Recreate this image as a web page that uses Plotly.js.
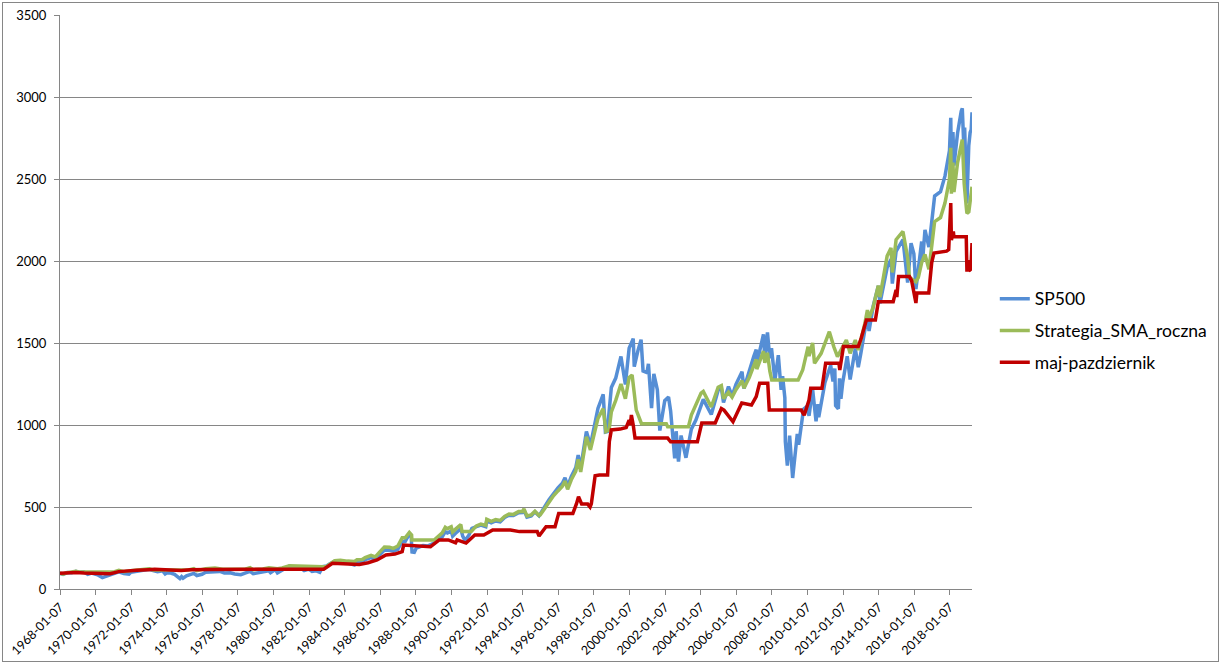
<!DOCTYPE html>
<html>
<head>
<meta charset="utf-8">
<script src="https://cdn.plot.ly/plotly-3.0.1.min.js"></script>
<style>
html,body{margin:0;padding:0;background:#fff;}
#wrap{position:relative;width:1220px;height:664px;}
#chart{position:absolute;left:0;top:0;width:1220px;height:664px;}
#frame{position:absolute;left:2px;top:2px;width:1215px;height:658px;border:1px solid #868686;pointer-events:none;}
</style>
</head>
<body>
<div id="wrap"><div id="chart"></div><div id="frame"></div></div>
<script>
// ---- SP500 (weekly close, sampled) ----
const spDates = ["1968-01-07","1968-03-10","1968-06-01","1968-09-01","1968-11-29","1969-01-15","1969-05-15","1969-07-29","1969-10-15","1969-12-31",
"1970-02-15","1970-05-26","1970-08-01","1970-10-15","1970-12-31","1971-04-28","1971-08-09","1971-11-23","1971-12-31","1972-05-01",
"1972-08-15","1972-12-31","1973-01-11","1973-04-01","1973-07-01","1973-10-15","1973-12-05","1974-01-01","1974-03-15","1974-06-15",
"1974-09-01","1974-10-03","1974-11-07","1974-12-06","1975-02-15","1975-07-15","1975-09-15","1975-12-31","1976-03-15","1976-06-15",
"1976-09-21","1976-12-31","1977-04-01","1977-08-01","1977-11-01","1978-03-06","1978-06-01","1978-09-12","1978-11-14","1979-03-01",
"1979-06-01","1979-10-05","1979-11-07","1980-02-13","1980-03-27","1980-06-30","1980-11-28","1980-12-31","1981-04-01","1981-07-01",
"1981-09-25","1981-12-31","1982-03-08","1982-06-01","1982-08-12","1982-10-15","1982-12-31","1983-03-01","1983-06-15","1983-10-10",
"1983-12-31","1984-03-01","1984-07-24","1984-09-15","1984-12-31","1985-03-01","1985-06-30","1985-09-25","1985-12-31","1986-03-31",
"1986-07-15","1986-09-30","1986-12-31","1987-03-31","1987-06-01","1987-08-25","1987-10-01","1987-10-19","1987-12-04","1988-01-15",
"1988-06-01","1988-09-01","1988-12-31","1989-03-31","1989-06-30","1989-09-01","1989-10-13","1989-12-31","1990-01-30","1990-03-31",
"1990-07-16","1990-08-24","1990-10-11","1990-12-31","1991-03-01","1991-06-01","1991-09-01","1991-12-10","1991-12-31","1992-04-01",
"1992-07-01","1992-10-01","1992-12-31","1993-04-01","1993-07-01","1993-10-15","1993-12-31","1994-02-01","1994-04-04","1994-07-01",
"1994-09-15","1994-12-08","1995-01-01","1995-03-31","1995-06-30","1995-09-30","1995-12-31","1996-03-31","1996-05-24","1996-07-16",
"1996-09-30","1996-12-31","1997-02-18","1997-04-11","1997-06-30","1997-08-06","1997-10-27","1997-12-31","1998-03-31","1998-07-17",
"1998-08-31","1998-10-08","1998-12-31","1999-03-31","1999-07-16","1999-10-15","1999-12-31","2000-03-24","2000-04-14","2000-06-30",
"2000-09-01","2000-10-12","2000-12-31","2001-01-30","2001-04-04","2001-05-21","2001-08-01","2001-09-21","2001-12-31","2002-03-19",
"2002-05-01","2002-07-23","2002-08-22","2002-10-09","2002-12-01","2003-03-11","2003-06-30","2003-10-01","2003-12-31","2004-03-01",
"2004-08-12","2004-12-31","2005-03-07","2005-04-20","2005-07-31","2005-10-13","2005-12-31","2006-05-05","2006-06-13","2006-09-30",
"2006-12-31","2007-02-20","2007-03-05","2007-07-19","2007-08-15","2007-10-09","2007-11-26","2007-12-31","2008-03-10","2008-05-19",
"2008-07-15","2008-08-15","2008-09-30","2008-10-10","2008-11-20","2009-01-06","2009-03-09","2009-06-12","2009-07-10","2009-10-19",
"2009-12-31","2010-02-08","2010-04-23","2010-07-02","2010-08-09","2010-08-26","2010-12-31","2011-04-29","2011-06-15","2011-07-22",
"2011-08-08","2011-10-03","2011-10-27","2011-11-25","2011-12-31","2012-04-02","2012-06-01","2012-09-14","2012-11-15","2012-12-31",
"2013-03-31","2013-05-21","2013-06-24","2013-09-18","2013-12-31","2014-02-03","2014-06-30","2014-09-18","2014-10-15","2014-12-31",
"2015-05-21","2015-08-25","2015-11-03","2015-12-31","2016-02-11","2016-06-08","2016-06-27","2016-08-15","2016-11-04","2016-12-31",
"2017-03-01","2017-06-30","2017-09-30","2017-12-31","2018-01-26","2018-02-08","2018-03-12","2018-04-02","2018-06-15","2018-08-29",
"2018-09-20","2018-10-29","2018-11-07","2018-12-24","2019-01-31","2019-02-28","2019-03-22","2019-04-07"];
const spValues = [96,89,100,99,108,102,104,89,97,92,
87,69,75,84,92,104,95,91,102,107,
112,118,120,112,105,111,92,97,99,89,
72,63,75,66,81,95,82,90,102,102,
107,107,98,99,92,87,97,107,93,99,
102,111,99,118,98,114,140,136,136,130,
112,122,107,111,102,136,140,152,170,172,
165,157,147,166,167,180,191,180,211,238,
237,231,242,291,290,336,322,225,223,250,
265,262,278,295,318,350,342,353,322,340,
368,322,295,330,370,380,390,380,417,404,
415,410,436,450,448,465,466,482,438,446,
470,446,459,500,545,584,616,645,679,626,
687,741,816,737,885,960,876,970,1101,1187,
957,960,1229,1286,1418,1247,1469,1527,1356,1455,
1520,1329,1320,1373,1103,1312,1215,966,1148,1170,
1084,797,962,777,936,800,975,1030,1112,1156,
1064,1212,1225,1138,1234,1177,1248,1325,1223,1336,
1418,1460,1374,1553,1406,1565,1407,1468,1273,1426,
1214,1298,1166,899,752,935,677,946,879,1097,
1115,1056,1217,1022,1127,1047,1258,1364,1265,1345,
1119,1099,1285,1159,1258,1419,1278,1466,1353,1426,
1569,1669,1573,1726,1848,1742,1960,2011,1862,2059,
2131,1868,2109,2044,1829,2119,2001,2190,2085,2239,
2396,2423,2519,2674,2873,2581,2787,2582,2780,2914,
2931,2641,2814,2351,2704,2784,2801,2907];

// ---- Strategia_SMA_roczna ----
const smaDates = ["1968-01-07","1968-03-10","1968-06-01","1968-11-29","1969-03-01","1970-12-31","1971-04-28","1971-08-09","1971-12-31","1972-08-15",
"1973-01-11","1973-04-01","1975-04-01","1975-07-15","1975-09-15","1976-03-15","1976-09-21","1977-03-01","1978-06-01","1978-09-12",
"1978-11-14","1979-06-01","1979-10-05","1980-03-27","1980-06-30","1980-11-28","1981-04-01","1981-07-01","1982-10-15","1982-12-31",
"1983-03-01","1983-06-15","1983-10-10","1983-12-31","1984-03-01","1984-07-24","1984-09-15","1984-12-31","1985-03-01","1985-06-30",
"1985-09-25","1985-12-31","1986-03-31","1986-07-15","1986-09-30","1986-12-31","1987-03-31","1987-06-01","1987-08-25","1987-10-10",
"1987-10-16","1989-01-15","1989-03-31","1989-06-30","1989-09-01","1989-10-13","1989-12-31","1990-01-30","1990-03-31","1990-07-16",
"1990-08-10","1991-02-15","1991-06-01","1991-09-01","1991-12-10","1991-12-31","1992-04-01","1992-07-01","1992-10-01","1992-12-31",
"1993-04-01","1993-07-01","1993-10-15","1993-12-31","1994-02-01","1994-04-04","1994-07-01","1994-09-15","1994-12-08","1995-01-01",
"1995-03-31","1995-06-30","1995-09-30","1995-12-31","1996-03-31","1996-05-24","1996-07-16","1996-09-30","1996-12-31","1997-02-18",
"1997-04-11","1997-06-30","1997-08-06","1997-10-27","1997-12-31","1998-03-31","1998-07-17","1998-09-10","1998-11-15","1998-12-31",
"1999-03-31","1999-07-16","1999-10-15","1999-12-31","2000-03-01","2000-04-14","2000-05-25","2000-09-10","2002-02-01","2002-03-01",
"2003-05-01","2003-06-30","2003-10-01","2004-01-15","2004-03-01","2004-08-12","2004-12-31","2005-03-07","2005-04-20","2005-07-31",
"2005-10-13","2005-12-31","2006-05-05","2006-06-13","2006-09-30","2006-12-31","2007-02-20","2007-03-05","2007-07-19","2007-08-15",
"2007-10-09","2007-11-26","2008-01-05","2009-06-30","2009-10-01","2010-01-20","2010-02-08","2010-04-23","2010-06-01","2010-10-15",
"2011-04-01","2011-07-01","2011-09-15","2012-03-15","2012-06-01","2012-09-15","2012-11-15","2013-03-31","2013-05-21","2013-06-24",
"2013-09-18","2013-12-31","2014-02-03","2014-06-30","2014-09-18","2014-10-15","2014-12-31","2015-05-21","2015-08-25","2015-10-01",
"2016-02-11","2016-04-01","2016-06-08","2016-08-15","2016-11-04","2016-12-31","2017-03-01","2017-06-30","2017-09-30","2017-12-31",
"2018-01-26","2018-02-08","2018-03-12","2018-04-02","2018-06-15","2018-09-20","2018-10-29","2018-12-10","2018-12-24","2019-02-01",
"2019-04-07"];
const smaValues = [96,91,100,108,103,103,114,105,112,120,
124,116,116,124,112,124,128,121,121,130,
118,122,130,124,128,141,140,135,135,138,
152,172,176,172,170,168,178,180,192,205,
196,228,256,254,248,262,312,312,345,330,
299,299,318,342,376,368,380,348,365,393,
350,350,385,396,388,425,412,423,418,443,
457,455,472,473,488,445,452,474,448,452,
490,532,568,598,626,658,608,666,718,790,
714,856,928,848,938,1040,1100,960,970,1080,
1150,1250,1160,1290,1305,1180,1091,1008,1008,990,
990,1060,1120,1195,1205,1110,1230,1240,1160,1200,
1170,1215,1270,1225,1290,1360,1400,1340,1450,1380,
1440,1330,1274,1274,1335,1478,1420,1500,1376,1437,
1569,1478,1417,1518,1437,1518,1457,1620,1700,1650,
1720,1850,1780,2030,2080,1930,2130,2180,2020,1900,
1874,1900,1990,2040,1950,2090,2240,2265,2355,2500,
2690,2410,2600,2420,2600,2740,2470,2330,2290,2300,
2453];

// ---- maj-pazdziernik ----
const mpDates = ["1968-01-07","1968-06-01","1968-11-29","1969-05-15","1970-05-26","1970-11-01","1971-04-28","1971-11-01","1972-04-30","1972-12-31",
"1973-04-30","1974-11-01","1975-04-30","1976-04-30","1977-04-30","1978-04-30","1979-04-30","1980-04-30","1980-11-28","1981-04-30",
"1982-11-01","1983-04-30","1983-11-01","1984-11-01","1985-04-30","1985-11-01","1986-04-30","1986-11-01","1987-03-31","1987-04-30",
"1988-11-01","1989-04-30","1989-11-01","1990-03-31","1990-05-01","1990-11-01","1991-04-30","1991-11-01","1992-04-30","1993-04-30",
"1993-11-01","1994-04-30","1994-11-01","1994-12-08","1995-04-30","1995-11-01","1996-01-15","1996-04-30","1996-11-01","1997-01-15",
"1997-02-25","1997-04-30","1997-09-01","1997-10-20","1997-11-15","1998-02-01","1998-04-30","1998-10-15","1998-11-20","1998-12-31",
"1999-06-30","1999-11-01","1999-12-31","2000-01-25","2000-02-15","2000-03-24","2000-04-30","2002-03-01","2002-04-30","2003-11-01",
"2004-01-30","2004-04-30","2004-11-01","2005-03-07","2005-04-30","2005-11-01","2006-04-30","2006-11-15","2007-02-20","2007-04-30",
"2007-10-15","2007-11-15","2009-09-01","2009-11-01","2010-02-08","2010-03-15","2010-11-01","2011-01-15","2011-04-30","2011-10-15",
"2011-11-01","2012-01-15","2012-04-30","2012-11-15","2013-01-15","2013-04-30","2013-11-01","2013-12-31","2014-11-01","2014-12-31",
"2015-01-15","2015-02-20","2015-10-01","2015-11-15","2016-02-11","2016-03-01","2016-11-01","2016-12-31","2017-02-15","2017-11-01",
"2017-12-15","2018-01-26","2018-02-08","2018-03-20","2018-04-01","2018-12-10","2018-12-24","2019-01-15","2019-02-01","2019-03-15",
"2019-04-07"];
const mpValues = [96,100,101,98,94,93,106,108,115,118,
120,113,118,119,120,120,120,120,124,120,
121,157,153,150,160,177,208,213,228,268,
258,299,299,282,299,280,329,329,360,360,
350,350,350,323,380,380,461,461,461,520,
563,518,518,500,520,690,695,695,900,970,
975,985,1030,1000,1061,1000,920,920,898,898,
1012,1012,1012,1100,1091,1020,1134,1122,1173,1254,
1254,1091,1091,1060,1152,1224,1224,1376,1376,1376,
1335,1478,1478,1478,1530,1640,1640,1752,1752,1823,
1780,1905,1905,1880,1744,1805,1805,1990,2049,2060,
2070,2353,2128,2180,2148,2148,1935,2006,1940,1950,
2110];

const tickLabels = ["1968-01-07","1970-01-07","1972-01-07","1974-01-07","1976-01-07","1978-01-07","1980-01-07","1982-01-07","1984-01-07",
"1986-01-07","1988-01-07","1990-01-07","1992-01-07","1994-01-07","1996-01-07","1998-01-07","2000-01-07","2002-01-07","2004-01-07",
"2006-01-07","2008-01-07","2010-01-07","2012-01-07","2014-01-07","2016-01-07","2018-01-07"];
const yTicks = [0,500,1000,1500,2000,2500,3000,3500];

const font = "Lato, 'Open Sans', 'DejaVu Sans', sans-serif";
const traces = [
  {x: spDates, y: spValues, name: "SP500", type: "scatter", mode: "lines",
   line: {color: "#558ED5", width: 3.5}, legendgroup: "a"},
  {x: smaDates, y: smaValues, name: "Strategia_SMA_roczna", type: "scatter", mode: "lines",
   line: {color: "#9BBB59", width: 3.5}, legendgroup: "b"},
  {x: mpDates, y: mpValues, name: "maj-pazdziernik", type: "scatter", mode: "lines",
   line: {color: "#C00000", width: 3.5}, legendgroup: "c"}
];
const layout = {
  width: 1220, height: 664,
  margin: {l: 60, r: 248, t: 15, b: 75, autoexpand: false},
  paper_bgcolor: "#ffffff", plot_bgcolor: "#ffffff",
  font: {family: font, size: 12, color: "#000000"},
  showlegend: true,
  legend: {x: 1.025, xanchor: "left", y: 0.537, yanchor: "top",
           font: {family: font, size: 17.5, color: "#000000"},
           traceorder: "grouped", tracegroupgap: 6, bgcolor: "rgba(0,0,0,0)"},
  xaxis: {type: "date", range: ["1968-01-07", "2019-04-07"],
          tickmode: "array", tickvals: tickLabels, ticktext: tickLabels,
          tickangle: -45, ticks: "outside", ticklen: 5, tickcolor: "#868686",
          showline: true, linecolor: "#868686", linewidth: 1,
          showgrid: false, zeroline: false, tickfont: {size: 12.5}},
  yaxis: {range: [0, 3500], tickmode: "array", tickvals: yTicks,
          ticks: "outside", ticklen: 5, tickcolor: "#868686", ticklabelstandoff: 5,
          showline: true, linecolor: "#868686", linewidth: 1,
          showgrid: true, gridcolor: "#868686", gridwidth: 1,
          zeroline: false, tickfont: {size: 13}}
};
Plotly.newPlot("chart", traces, layout, {displayModeBar: false, staticPlot: true});
</script>
</body>
</html>
